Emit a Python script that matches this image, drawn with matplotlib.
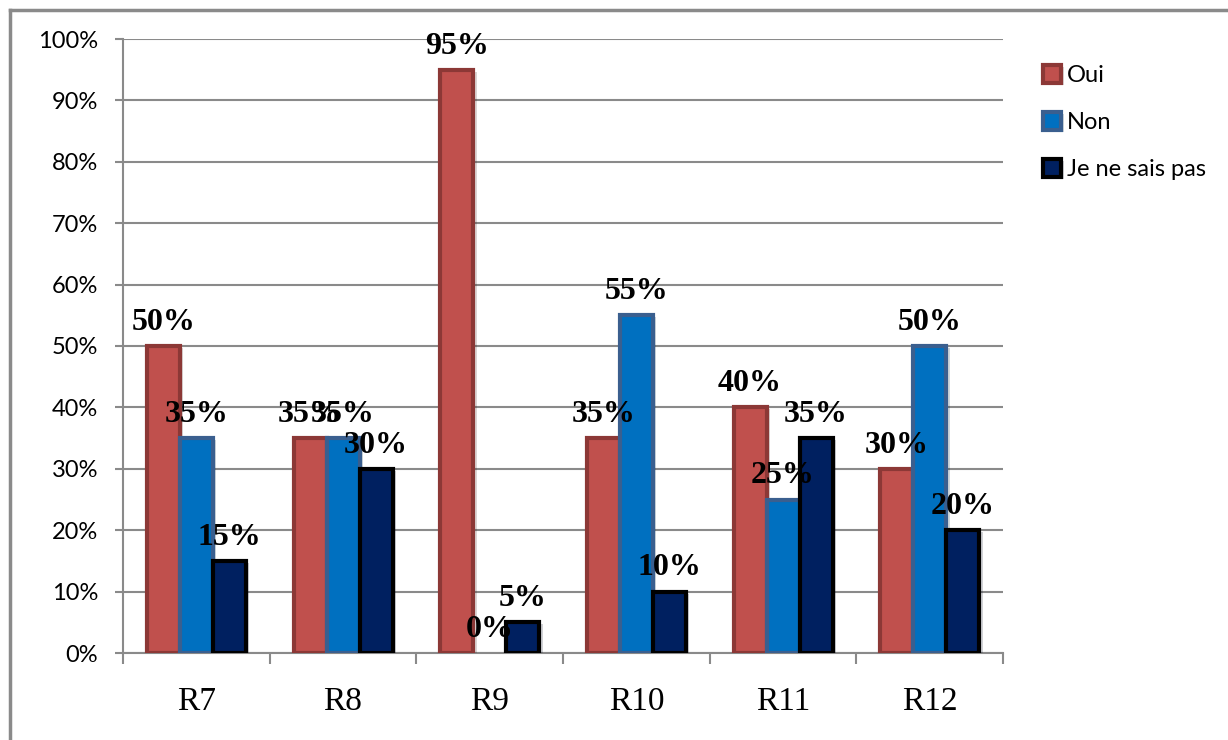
import matplotlib.pyplot as plt
import matplotlib.patheffects as pe
import numpy as np
from matplotlib.lines import Line2D

# donnees
questions = ["R7", "R8", "R9", "R10", "R11", "R12"]
oui = [50, 35, 95, 35, 40, 30]
non = [35, 35, 0, 55, 25, 50]
nsp = [15, 30, 5, 10, 35, 20]
series = ["Oui", "Non", "Je ne sais pas"]

fill = ["#C0504D", "#0070C0", "#002060"]
edge = ["#8C3836", "#3A5F8F", "#000000"]

fig = plt.figure(figsize=(12.28, 7.40), dpi=100)
ax = fig.add_axes([123/1228, 87/740, 880/1228, 614/740])

x = np.arange(len(questions))
w = 0.225
gris = "#8A8A8A"
ombre = [pe.SimplePatchShadow(offset=(2.5, -1.5), alpha=0.18), pe.Normal()]

for i, (vals, nom) in enumerate(zip([oui, non, nsp], series)):
    bars = ax.bar(x + (i - 1) * w, vals, w, color=fill[i], edgecolor=edge[i],
                  linewidth=3, label=nom, zorder=3)
    for b, v in zip(bars, vals):
        if v == 0:
            b.set_linewidth(0)
        else:
            b.set_path_effects(ombre)
        ax.annotate(f"{v}%", (b.get_x() + b.get_width() / 2, v),
                    xytext=(0, 17), textcoords="offset points",
                    ha="center", va="center", fontsize=23, fontweight="bold",
                    family="Liberation Serif", zorder=5)

ax.set_xlim(-0.5, len(questions) - 0.5)
ax.set_ylim(0, 100)
ax.set_yticks(range(0, 101, 10))
ax.set_yticklabels([f"{t}%" for t in range(0, 101, 10)], family="Lato", fontsize=17)
ax.set_xticks(x)
ax.set_xticklabels(questions, family="Liberation Serif", fontsize=24)
ax.set_xticks(np.arange(-0.5, len(questions)), minor=True)

ax.grid(axis="y", color=gris, linewidth=1.5, zorder=0)
ax.tick_params(axis="y", length=6, width=1.5, color=gris, pad=12)
ax.tick_params(axis="x", which="major", length=0, pad=24)
ax.tick_params(axis="x", which="minor", length=8, width=1.5, color=gris)
for s in ["top", "right"]:
    ax.spines[s].set_visible(False)
for s in ["left", "bottom"]:
    ax.spines[s].set_color(gris)
    ax.spines[s].set_linewidth(1.5)

leg = fig.legend(loc="upper left", bbox_to_anchor=(1022/1228, 1 - 44/740),
                 frameon=False, prop={"family": "Lato", "size": 17},
                 handlelength=0.75, handleheight=0.75, handletextpad=0.25,
                 labelspacing=1.1)

# cadre gris autour du graphique (haut et gauche seulement)
fig.add_artist(Line2D([10/1228, 1], [1 - 10/740, 1 - 10/740], color=gris, lw=2.5,
                      transform=fig.transFigure))
fig.add_artist(Line2D([10/1228, 10/1228], [0, 1 - 10/740], color=gris, lw=2.5,
                      transform=fig.transFigure))

fig.savefig("out.png", dpi=100)
